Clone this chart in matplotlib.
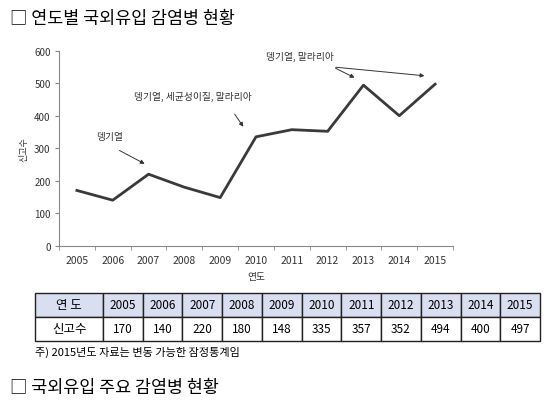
import matplotlib.pyplot as plt

plt.rcParams['font.family'] = ['Noto Sans CJK KR', 'DejaVu Sans']

# 데이터
연도 = ['2005', '2006', '2007', '2008', '2009', '2010', '2011', '2012', '2013', '2014', '2015']
신고수 = [170, 140, 220, 180, 148, 335, 357, 352, 494, 400, 497]
y_눈금 = [0, 100, 200, 300, 400, 500, 600]

W, H = 550, 402
fig = plt.figure(figsize=(W / 100, H / 100), dpi=100)

# 제목
fig.text(10 / W, 1 - 19 / H, '□ 연도별 국외유입 감염병 현황', fontsize=12.5, va='center', ha='left')
fig.text(10 / W, 1 - 388 / H, '□ 국외유입 주요 감염병 현황', fontsize=12.5, va='center', ha='left')

# 선 그래프
ax = fig.add_axes([59 / W, 1 - 246.7 / H, 394 / W, 195 / H])
x = list(range(len(연도)))
ax.plot(x, 신고수, color='#3a3a3a', linewidth=2)
ax.set_xlim(-0.5, len(연도) - 0.5)
ax.set_ylim(0, 600)
ax.set_yticks(y_눈금)
ax.set_xticks(x)
ax.set_xticklabels(연도)
ax.set_xticks([i - 0.5 for i in range(len(연도) + 1)], minor=True)
ax.tick_params(axis='x', which='major', length=0, labelsize=7.5, colors='#333333', pad=7)
ax.tick_params(axis='x', which='minor', length=3, color='#888888')
ax.tick_params(axis='y', length=3, color='#888888', labelsize=7, labelcolor='#333333', pad=3)
for s in ['top', 'right']:
    ax.spines[s].set_visible(False)
for s in ['left', 'bottom']:
    ax.spines[s].set_color('#888888')
    ax.spines[s].set_linewidth(0.8)
ax.set_xlabel('연도', fontsize=7, color='#333333', labelpad=4)
ax.set_ylabel('신고수', fontsize=6.5, color='#333333', labelpad=4)

# 주석
화살표 = dict(arrowstyle='-|>', color='#333333', lw=0.7, mutation_scale=6)
ax.text(0.92, 337, '뎅기열', fontsize=7, ha='center', va='center', color='#333333')
ax.annotate('', xy=(1.96, 248), xytext=(1.12, 297), arrowprops=화살표)
ax.text(3.24, 460, '뎅기열, 세균성이질, 말라리아', fontsize=7, ha='center', va='center', color='#333333')
ax.annotate('', xy=(4.69, 359), xytext=(4.36, 412), arrowprops=화살표)
ax.text(6.23, 583, '뎅기열, 말라리아', fontsize=7, ha='center', va='center', color='#333333')
ax.annotate('', xy=(7.82, 513), xytext=(7.15, 550), arrowprops=화살표)
ax.annotate('', xy=(9.78, 522), xytext=(7.15, 550), arrowprops=화살표)

# 표
tax = fig.add_axes([35 / W, 1 - 342 / H, 505 / W, 48 / H])
tax.axis('off')
표 = tax.table(cellText=[['연 도'] + 연도, ['신고수'] + [str(v) for v in 신고수]],
              cellLoc='center', bbox=[0, 0, 1, 1],
              colWidths=[68] + [39.7] * len(연도))
표.auto_set_font_size(False)
for (r, c), cell in 표.get_celld().items():
    cell.set_linewidth(1.0)
    cell.set_edgecolor('#222222')
    cell.get_text().set_fontsize(8.5)
    if r == 0:
        cell.set_facecolor('#d9def0')
    if c == 0:
        cell.get_text().set_fontsize(9)

fig.text(35 / W, 1 - 352 / H, '주) 2015년도 자료는 변동 가능한 잠정통계임', fontsize=8, va='center', ha='left')

plt.savefig('out.png', dpi=100)
